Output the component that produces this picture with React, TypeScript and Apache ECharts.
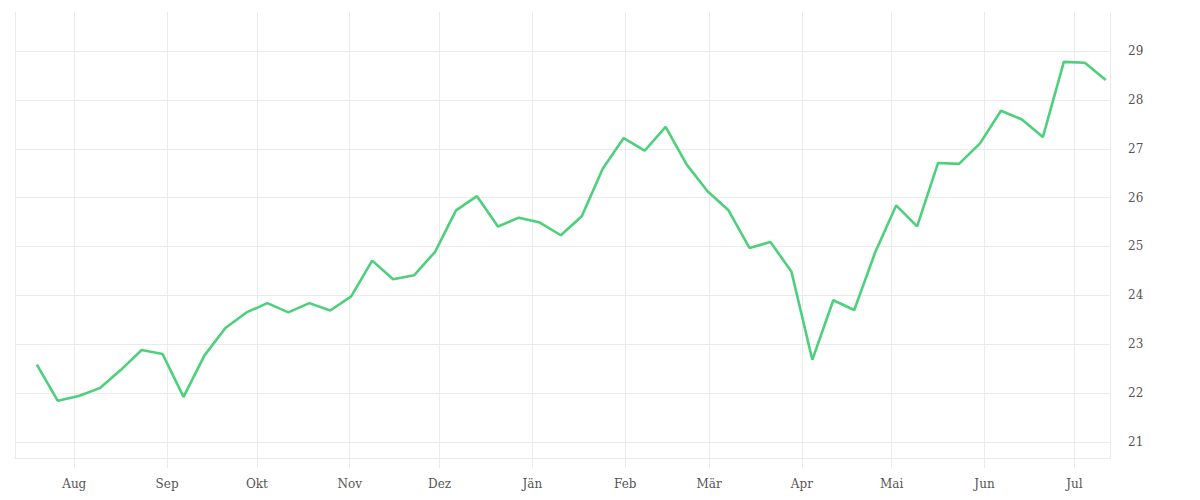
import React, { useEffect, useRef } from "react";
import * as echarts from "echarts";

const monthNames = ["Jän", "Feb", "Mär", "Apr", "Mai", "Jun", "Jul", "Aug", "Sep", "Okt", "Nov", "Dez"];

const dates = [
  "2022-07-19", "2022-07-26", "2022-08-02", "2022-08-09", "2022-08-16", "2022-08-23", "2022-08-30",
  "2022-09-06", "2022-09-13", "2022-09-20", "2022-09-27", "2022-10-04", "2022-10-11", "2022-10-18",
  "2022-10-25", "2022-11-01", "2022-11-08", "2022-11-15", "2022-11-22", "2022-11-29", "2022-12-06",
  "2022-12-13", "2022-12-20", "2022-12-27", "2023-01-03", "2023-01-10", "2023-01-17", "2023-01-24",
  "2023-01-31", "2023-02-07", "2023-02-14", "2023-02-21", "2023-02-28", "2023-03-07", "2023-03-14",
  "2023-03-21", "2023-03-28", "2023-04-04", "2023-04-11", "2023-04-18", "2023-04-25", "2023-05-02",
  "2023-05-09", "2023-05-16", "2023-05-23", "2023-05-30", "2023-06-06", "2023-06-13", "2023-06-20",
  "2023-06-27", "2023-07-04", "2023-07-11",
];

const values = [
  22.58, 21.84, 21.94, 22.1, 22.47, 22.88, 22.8, 21.92, 22.77, 23.33, 23.65, 23.84, 23.65, 23.84,
  23.69, 23.98, 24.71, 24.33, 24.41, 24.89, 25.74, 26.03, 25.41, 25.59, 25.49, 25.23, 25.62, 26.59,
  27.22, 26.96, 27.45, 26.68, 26.13, 25.74, 24.97, 25.09, 24.49, 22.68, 23.9, 23.7, 24.88, 25.84,
  25.41, 26.71, 26.69, 27.11, 27.78, 27.6, 27.24, 28.78, 28.76, 28.41,
];

const yTicks = [21, 22, 23, 24, 25, 26, 27, 28, 29];

const xMin = "2022-07-12T05:00:00";
const xMax = "2023-07-12T22:00:00";
const yMin = 20.67;
const yMax = 29.8;

export default function App() {
  const ref = useRef<HTMLDivElement>(null);
  useEffect(() => {
    if (!ref.current) return;
    const chart = echarts.init(ref.current, undefined, { renderer: "svg" });
    const font = "DejaVu Serif";
    chart.setOption({
      animation: false,
      backgroundColor: "#ffffff",
      grid: { left: 15, right: 90, top: 12, bottom: 42, containLabel: false },
      xAxis: {
        type: "time",
        min: new Date(xMin).getTime(),
        max: new Date(xMax).getTime(),
        splitNumber: 12,
        axisLine: { show: true, lineStyle: { color: "#ebebeb", width: 1 } },
        axisTick: { show: true, length: 10, lineStyle: { color: "#ebebeb" } },
        splitLine: { show: true, lineStyle: { color: "#ebebeb", width: 1 } },
        minorTick: { show: false },
        axisLabel: {
          margin: 20,
          color: "#555",
          fontFamily: font,
          fontSize: 12,
          hideOverlap: false,
          formatter: (v: number) => monthNames[new Date(v).getMonth()],
        },
      },
      yAxis: {
        type: "value",
        position: "right",
        min: yMin,
        max: yMax,
        axisLine: { show: true, lineStyle: { color: "#ebebeb", width: 1 } },
        axisTick: { show: false, customValues: yTicks },
        splitLine: { show: true, lineStyle: { color: "#ebebeb", width: 1 } },
        axisLabel: {
          margin: 18,
          color: "#555",
          fontFamily: font,
          fontSize: 12,
          padding: [4, 0, 0, 0],
          customValues: yTicks,
        },
      },
      series: [
        {
          type: "line",
          data: dates.map((d, i) => [new Date(d + "T12:00:00").getTime(), values[i]]),
          showSymbol: false,
          symbol: "none",
          lineStyle: { color: "#4dd07c", width: 2.6 },
          itemStyle: { color: "#4dd07c" },
        },
      ],
    });
    return () => chart.dispose();
  }, []);
  return (
    <div
      ref={ref}
      style={{ position: "fixed", left: 0, top: 0, width: 1200, height: 500, background: "#fff" }}
    />
  );
}
